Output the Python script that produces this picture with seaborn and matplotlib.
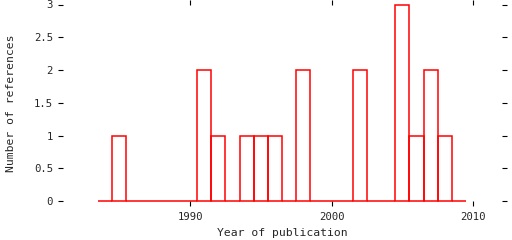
import matplotlib
matplotlib.use("Agg")
import matplotlib.pyplot as plt
import seaborn as sns
import numpy as np

# Data: publication years and number of references per year
years = [1985, 1991, 1992, 1994, 1995, 1996, 1998, 2002, 2005, 2006, 2007, 2008]
counts = [1, 2, 1, 1, 1, 1, 2, 2, 3, 1, 2, 1]
x_ticks = [1990, 2000, 2010]
y_ticks = [0, 0.5, 1, 1.5, 2, 2.5, 3]
y_tick_labels = ["0", "0.5", "1", "1.5", "2", "2.5", "3"]

sns.set_style("white")
plt.rcParams['font.family'] = ['DejaVu Sans Mono', 'DejaVu Sans']

W, H = 512, 240
fig = plt.figure(figsize=(W / 100, H / 100), dpi=100)
left, right, bottom, top = 58, 507, 201, 4.5
ax = fig.add_axes([left / W, (H - bottom) / H, (right - left) / W, (bottom - top) / H])

sns.histplot(x=years, weights=counts, binwidth=1, binrange=(1983.5, 2009.5),
             element="bars", fill=False, color="#ff0000", linewidth=1.1, ax=ax)
for p in ax.patches:
    p.set_clip_on(False)
    p.set_edgecolor("#ff0000")

ax.set_xlim(1980.67, 2012.4)
ax.set_ylim(0, 3)
for s in ax.spines.values():
    s.set_visible(False)

ax.set_xticks(x_ticks)
ax.set_xticklabels([str(t) for t in x_ticks])
ax.set_yticks(y_ticks)
ax.set_yticklabels(y_tick_labels)

fs = 7.7
ax.tick_params(axis='y', which='both', left=True, right=True, direction='in',
               length=3.6, width=0.8, color='black', labelsize=fs, pad=3.6)
ax.tick_params(axis='x', which='both', bottom=True, top=True, direction='out',
               length=3.6, width=0.8, color='black', labelsize=fs, pad=4.5)
for t in ax.xaxis.get_major_ticks():
    t.tick1line.set_clip_on(False)
    t.tick2line.set_clip_on(False)

ax.set_xlabel("")
ax.set_ylabel("")
lfs = 8.2
fig.text(282 / W, 1 - 233 / H, "Year of publication", ha='center', va='center', fontsize=lfs)
fig.text(11 / W, 1 - 103 / H, "Number of references", ha='center', va='center',
         rotation=90, fontsize=lfs)

fig.savefig("out.png", dpi=100)
